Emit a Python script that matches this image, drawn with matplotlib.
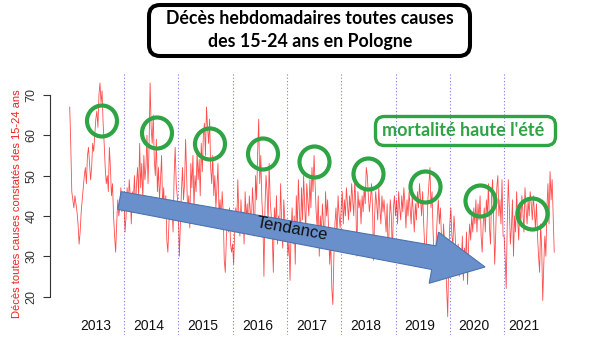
import numpy as np
import matplotlib
matplotlib.use("Agg")
import matplotlib.pyplot as plt
from matplotlib.patches import FancyBboxPatch, Ellipse, Polygon
from matplotlib.transforms import Affine2D

# ---------------- data (weekly deaths, 15-24 y, Poland) ----------------
years = [2013, 2014, 2015, 2016, 2017, 2018, 2019, 2020, 2021]
d2013 = [67, 58, 46, 44, 42, 45, 43, 41, 38, 33, 36, 41, 44, 47, 50, 52, 48, 55, 57, 53, 49, 52, 58, 56, 60, 64,
         66, 62, 70, 73, 68, 71, 63, 58, 52, 48, 50, 46, 57, 52, 45, 48, 40, 35, 31, 38, 44, 40, 42, 47, 41, 44]
d2014 = [44, 36, 40, 47, 42, 49, 45, 38, 46, 44, 50, 41, 48, 52, 45, 58, 47, 53, 44, 55, 49, 52, 60, 48, 57, 73,
         62, 58, 65, 54, 50, 59, 46, 52, 44, 49, 55, 42, 47, 40, 45, 34, 31, 38, 44, 40, 42, 36, 50, 57, 48, 45]
d2015 = [42, 30, 38, 46, 52, 44, 48, 59, 50, 40, 45, 37, 53, 47, 55, 42, 50, 46, 56, 49, 54, 45, 58, 51, 60, 63,
         55, 67, 62, 58, 64, 52, 48, 55, 45, 50, 42, 47, 53, 40, 44, 38, 46, 41, 29, 26, 34, 40, 36, 42, 33, 31]
d2016 = [33, 28, 36, 42, 38, 49, 40, 35, 44, 37, 41, 33, 46, 39, 43, 36, 45, 41, 38, 47, 42, 35, 50, 44, 56, 64,
         48, 55, 44, 39, 25, 42, 50, 46, 38, 53, 44, 40, 35, 26, 42, 37, 45, 33, 40, 36, 48, 38, 32, 44, 39, 35]
d2017 = [38, 30, 34, 24, 36, 42, 33, 40, 28, 45, 37, 49, 41, 35, 47, 39, 50, 43, 36, 48, 44, 40, 49, 42, 52, 46,
         55, 48, 41, 37, 45, 30, 40, 35, 43, 38, 32, 46, 40, 44, 36, 28, 34, 22, 18, 30, 38, 42, 35, 45, 40, 37]
d2018 = [42, 46, 38, 44, 40, 47, 43, 39, 45, 41, 48, 44, 40, 49, 43, 30, 46, 42, 44, 38, 45, 41, 47, 43, 52, 50,
         45, 41, 44, 48, 42, 29, 40, 46, 43, 39, 47, 42, 38, 45, 41, 44, 40, 36, 43, 29, 38, 44, 40, 30, 42, 45]
d2019 = [40, 44, 38, 46, 42, 39, 45, 41, 47, 43, 37, 44, 40, 46, 42, 38, 45, 41, 36, 43, 39, 46, 42, 48, 44, 40,
         46, 38, 32, 28, 36, 44, 48, 52, 42, 46, 36, 30, 26, 34, 40, 44, 38, 42, 35, 30, 38, 33, 28, 22, 15, 30]
d2020 = [38, 42, 35, 33, 40, 36, 30, 27, 33, 25, 30, 28, 35, 24, 32, 29, 36, 23, 33, 38, 34, 40, 36, 42, 38, 44,
         36, 43, 39, 45, 35, 31, 38, 42, 36, 44, 40, 48, 37, 33, 45, 49, 38, 28, 36, 47, 50, 40, 44, 38, 49, 35]
d2021 = [35, 30, 22, 38, 49, 42, 33, 37, 44, 30, 40, 36, 46, 39, 34, 43, 38, 45, 41, 36, 47, 42, 38, 44, 40, 46,
         43, 39, 45, 41, 37, 43, 35, 30, 26, 38, 32, 19, 28, 35, 30, 42, 48, 38, 51, 44, 49, 40, 31]
series = [d2013, d2014, d2015, d2016, d2017, d2018, d2019, d2020, d2021]

year_labels = ["2013", "2014", "2015", "2016", "2017", "2018", "2019", "2020", "2021"]
label_pos = [2013.48, 2014.46, 2015.45, 2016.46, 2017.46, 2018.46, 2019.45, 2020.45, 2021.37]
yticks = [20, 30, 40, 50, 60, 70]

# ---------------- figure ----------------
W, H = 602, 353
fig = plt.figure(figsize=(W / 100, H / 100), dpi=100)
px = Affine2D().scale(1 / W, -1 / H).translate(0, 1) + fig.transFigure

ax_l, ax_r, ax_t, ax_b = 50, 580, 73, 335
ax = fig.add_axes([ax_l / W, 1 - ax_b / H, (ax_r - ax_l) / W, (ax_b - ax_t) / H])
ax.set_facecolor("none")

x_all, y_all = [], []
for yr, vals in zip(years, series):
    for k, v in enumerate(vals):
        x_all.append(yr + k / 52)
        y_all.append(v)
ax.plot(x_all, y_all, color="#ff1010", lw=0.6, alpha=0.75, zorder=2)

ppy = 54.3
x0 = 2013 - (69.7 - ax_l) / ppy
ax.set_xlim(x0, x0 + (ax_r - ax_l) / ppy)
ppv = 4.03
yb = 20 - (ax_b - 296.5) / ppv
ax.set_ylim(yb, yb + (ax_b - ax_t) / ppv)

for yr in years[1:]:
    ax.axvline(yr, color="#7a7ae8", ls=(0, (1, 2)), lw=0.8, zorder=1)

for s in ["top", "right", "bottom"]:
    ax.spines[s].set_visible(False)
ax.spines["left"].set_bounds(20, 70)
ax.spines["left"].set_color("#333333")
ax.set_yticks(yticks)
ax.set_yticklabels([str(t) for t in yticks], rotation=90, va="center",
                   fontsize=9, family="Liberation Sans", color="#222222")
ax.tick_params(axis="y", length=5, width=0.8, pad=4, colors="#333333")
ax.set_xticks([])

for lab, p in zip(year_labels, label_pos):
    ax.text(p, (ax_b - 326) / (ax_b - ax_t), lab, transform=ax.get_xaxis_transform(),
            ha="center", va="center", fontsize=10, family="Liberation Sans", color="#111111")

fig.text(17 / W, 1 - 204 / H, "Décès toutes causes constatés des 15-24 ans", rotation=90,
         ha="center", va="center", fontsize=8, family="Liberation Sans", color="#ee2222")

# ---------------- annotations ----------------
green = "#2ea444"
title_box = FancyBboxPatch((149, 5), 321, 51, boxstyle="round,pad=0,rounding_size=11",
                           transform=px, fc="white", ec="black", lw=2.9, zorder=5)
fig.add_artist(title_box)
fig.text(310 / W, 1 - 19 / H, "Décès hebdomadaires toutes causes", ha="center", va="center",
         fontsize=12.8, family="Lato", weight="bold", color="black", zorder=6)
fig.text(310 / W, 1 - 42 / H, "des 15-24 ans en Pologne", ha="center", va="center",
         fontsize=12.8, family="Lato", weight="bold", color="black", zorder=6)

gbox = FancyBboxPatch((375.5, 116.5), 180, 29, boxstyle="round,pad=0,rounding_size=9",
                      transform=px, fc="none", ec=green, lw=2.4, zorder=5)
fig.add_artist(gbox)
fig.text(463 / W, 1 - 131 / H, "mortalité haute l'été", ha="center", va="center",
         fontsize=13, family="Lato", weight="bold", color=green, zorder=6)

circles = [(102, 121), (157, 133), (210, 144), (263, 154), (314.5, 162),
           (368.5, 174), (425.5, 187), (480.5, 201), (532.5, 214)]
for cx, cy in circles:
    fig.add_artist(Ellipse((cx, cy), 30, 31, transform=px, fc="none", ec=green, lw=3.0, zorder=5))

# block arrow
tail = np.array([119.5, 200.5])
tip = np.array([485.0, 267.0])
d = tip - tail
u = d / np.hypot(*d)
n = np.array([-u[1], u[0]])
base = tip - u * 52
hw0, hw1, hh = 9.0, 12.0, 26.0
pts = [tail - n * hw0, base - n * hw1, base - n * hh, tip, base + n * hh, base + n * hw1, tail + n * hw0]
fig.add_artist(Polygon(pts, closed=True, transform=px, fc="#6a90cb", ec="#4b73ad", lw=0.8, zorder=4))
ang = -np.degrees(np.arctan2(d[1], d[0]))
fig.text(292 / W, 1 - 229 / H, "Tendance", rotation=ang, rotation_mode="anchor", ha="center",
         va="center", fontsize=12, family="Liberation Sans", color="#111111", zorder=6)

fig.savefig("out.png", dpi=100)
